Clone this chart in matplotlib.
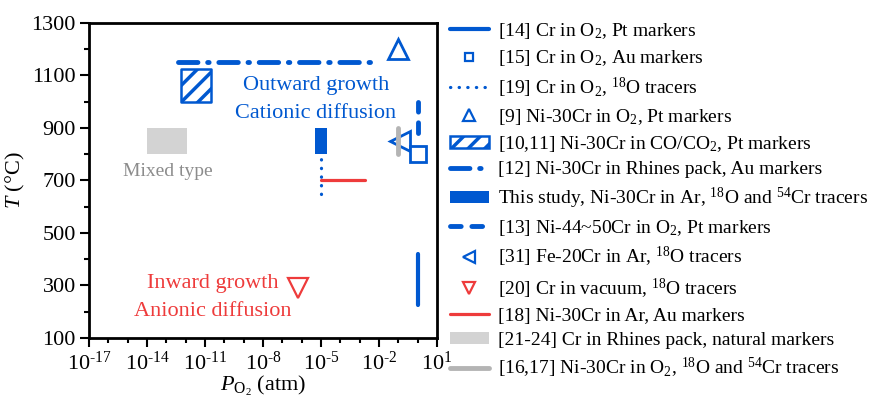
import matplotlib
matplotlib.use("Agg")
import matplotlib.pyplot as plt
from matplotlib.ticker import FixedLocator, NullFormatter

plt.rcParams['font.family'] = ['Liberation Serif', 'DejaVu Serif']
plt.rcParams['mathtext.fontset'] = 'custom'
plt.rcParams['mathtext.rm'] = 'Liberation Serif'
plt.rcParams['mathtext.it'] = 'Liberation Serif:italic'
plt.rcParams['hatch.linewidth'] = 2.5

blue = '#0058D0'
red = '#EE3B3B'
grey_box = '#D3D3D3'
grey_line = '#B4B4B4'
grey_text = '#8C8C8C'

# oxygen partial pressure (atm) and temperature (degC) for each study
po2_14 = [1, 1]
t_14 = [225, 420]
po2_15 = [1]
t_15 = [800]
po2_19 = [1e-5, 1e-5]
t_19 = [650, 800]
po2_9 = [0.1]
t_9 = [1200]
po2_10 = [6e-13, 2e-11]
t_10 = [1000, 1125]
po2_12 = [4e-13, 5e-3]
t_12 = [1150, 1150]
po2_this = [5e-6, 2e-5]
t_this = [800, 900]
po2_13 = [1, 1]
t_13 = [880, 1000]
po2_31 = [0.12]
t_31 = [850]
po2_20 = [6.5e-7]
t_20 = [290]
po2_18 = [1e-5, 2e-3]
t_18 = [700, 700]
po2_21 = [1e-14, 1.2e-12]
t_21 = [800, 900]
po2_16 = [0.1, 0.1]
t_16 = [800, 900]

labels = [
    '[14] Cr in O$_2$, Pt markers',
    '[15] Cr in O$_2$, Au markers',
    '[19] Cr in O$_2$, $^{18}$O tracers',
    '[9] Ni-30Cr in O$_2$, Pt markers',
    '[10,11] Ni-30Cr in CO/CO$_2$, Pt markers',
    '[12] Ni-30Cr in Rhines pack, Au markers',
    'This study, Ni-30Cr in Ar, $^{18}$O and $^{54}$Cr tracers',
    '[13] Ni-44~50Cr in O$_2$, Pt markers',
    '[31] Fe-20Cr in Ar, $^{18}$O tracers',
    '[20] Cr in vacuum, $^{18}$O tracers',
    '[18] Ni-30Cr in Ar, Au markers',
    '[21-24] Cr in Rhines pack, natural markers',
    '[16,17] Ni-30Cr in O$_2$, $^{18}$O and $^{54}$Cr tracers',
]

fig = plt.figure(figsize=(8.75, 3.99), dpi=100)
ax = fig.add_axes([0.1017, 0.1529, 0.3977, 0.7895])

h = {}
h[14], = ax.plot(po2_14, t_14, color=blue, lw=3, solid_capstyle='round', zorder=3)
h[19], = ax.plot(po2_19, t_19, color=blue, lw=2.3, ls=(0, (0.1, 2.6)),
                 dash_capstyle='round', zorder=2)
h[10] = ax.fill_betweenx(t_10, po2_10[0], po2_10[1], facecolor='white',
                         edgecolor=blue, hatch='//', lw=1.8, zorder=2)
h[12], = ax.plot(po2_12, t_12, color=blue, lw=3.5, ls=(0, (4, 2, 0.3, 2)),
                 dash_capstyle='round', zorder=2)
h[0] = ax.fill_betweenx(t_this, po2_this[0], po2_this[1], color=blue, lw=0, zorder=3)
h[13], = ax.plot(po2_13, t_13, color=blue, lw=3.5, ls=(0, (2.2, 2.2)),
                 dash_capstyle='round', zorder=2)
h[18], = ax.plot(po2_18, t_18, color=red, lw=2.3, solid_capstyle='round', zorder=2)
h[21] = ax.fill_betweenx(t_21, po2_21[0], po2_21[1], color=grey_box, lw=0, zorder=2)
h[31], = ax.plot(po2_31, t_31, ls='none', marker='<', ms=15, mfc='none',
                 mec=blue, mew=2, zorder=3)
h[16], = ax.plot(po2_16, t_16, color=grey_line, lw=3.5, solid_capstyle='round', zorder=4)
h[15], = ax.plot(po2_15, t_15, ls='none', marker='s', ms=11.5, mfc='white',
                 mec=blue, mew=2, zorder=5)
h[9], = ax.plot(po2_9, t_9, ls='none', marker='^', ms=15, mfc='none',
                mec=blue, mew=2, zorder=3)
h[20], = ax.plot(po2_20, t_20, ls='none', marker='v', ms=15, mfc='none',
                 mec=red, mew=1.6, zorder=3)

ax.text(10**-5.26, 1010, 'Outward growth\nCationic diffusion', color=blue,
        fontsize=16, ha='center', va='center', linespacing=1.65)
ax.text(10**-10.59, 255, 'Inward growth\nAnionic diffusion', color=red,
        fontsize=16, ha='center', va='center', linespacing=1.65)
ax.text(10**-12.9, 734, 'Mixed type', color=grey_text, fontsize=14,
        ha='center', va='center')

ax.set_xscale('log')
ax.set_xlim(1e-17, 1e1)
ax.set_ylim(100, 1300)
xt = [10.0**k for k in range(-17, 2, 3)]
ax.xaxis.set_major_locator(FixedLocator(xt))
ax.set_xticklabels(['10$^{\u2010%d}$' % -k if k < 0 else '10$^{%d}$' % k
                    for k in range(-17, 2, 3)])
ax.xaxis.set_minor_locator(FixedLocator([10.0**k for k in range(-17, 2)]))
ax.xaxis.set_minor_formatter(NullFormatter())
ax.set_yticks(range(100, 1400, 200))
ax.set_yticks(range(100, 1400, 100), minor=True)
ax.tick_params(which='major', direction='out', length=6.5, width=1.5,
               labelsize=16, pad=3)
ax.tick_params(which='minor', direction='out', length=3.5, width=1.5)
for s in ax.spines.values():
    s.set_linewidth(2)

ax.set_ylabel('$\\it{T}$ (°C)', fontsize=16, labelpad=3)
ax.set_xlabel('$\\it{P}_{\\rm O_2}$ (atm)', fontsize=16, labelpad=0)

order = [14, 15, 19, 9, 10, 12, 0, 13, 31, 20, 18, 21, 16]
leg = fig.legend([h[k] for k in order], labels, loc='upper left',
                 bbox_to_anchor=(450 / 875, 1 - 21 / 399), frameon=False,
                 fontsize=14, handlelength=2.0, handleheight=0.6,
                 handletextpad=0.45, labelspacing=0.37, borderpad=0,
                 borderaxespad=0, markerscale=0.55)
for lh in leg.legend_handles:
    if hasattr(lh, 'set_markeredgewidth'):
        lh.set_markeredgewidth(1.6)

fig.savefig('out.png', dpi=100)
